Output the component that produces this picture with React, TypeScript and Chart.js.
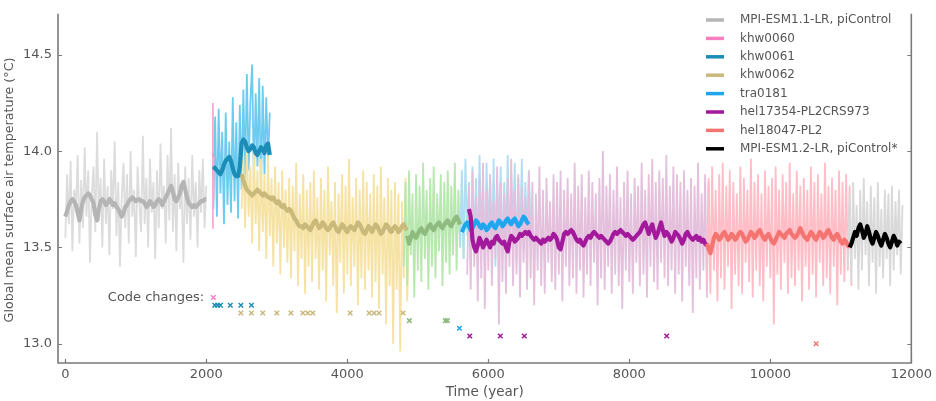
import React, { useEffect, useRef } from "react";
import { Chart, registerables } from "chart.js";

Chart.register(...registerables);

// ---------- axis ticks ----------
const X_TICKS = [0, 2000, 4000, 6000, 8000, 10000, 12000];
const Y_TICKS = [13.0, 13.5, 14.0, 14.5];

// ---------- series (start year, step in years, values in °C) ----------
const STEP = 25;

const GREY_RAW_START = 0;
const GREY_RAW = [
  13.55, 13.88, 13.62, 13.95, 13.48, 13.80, 13.70, 13.98, 13.52, 13.85,
  13.60, 14.02, 13.66, 13.90, 13.42, 13.78, 13.92, 13.58, 14.10, 13.64,
  13.86, 13.50, 13.96, 13.62, 13.82, 13.46, 13.90, 13.70, 14.05, 13.56,
  13.84, 13.40, 13.76, 13.94, 13.60, 13.88, 13.52, 14.00, 13.66, 13.80,
  13.45, 13.92, 13.72, 13.58, 14.08, 13.62, 13.86, 13.50, 13.96, 13.68,
  13.84, 13.44, 13.90, 13.60, 14.04, 13.70, 13.82, 13.52, 13.98, 13.64,
  14.12, 13.58, 13.88, 13.48, 13.94, 13.70, 13.80, 13.42, 13.92, 13.62,
  13.86, 13.54, 13.98, 13.66, 13.84, 13.50, 13.90, 13.68, 13.96, 13.60, 13.82,
];
const GREY_MEAN_START = 0;
const GREY_MEAN = [
  13.66, 13.69, 13.72, 13.74, 13.75, 13.74, 13.72, 13.68, 13.64, 13.70,
  13.74, 13.76, 13.77, 13.78, 13.77, 13.75, 13.73, 13.67, 13.64, 13.70,
  13.74, 13.75, 13.74, 13.72, 13.73, 13.75, 13.74, 13.72, 13.73, 13.71,
  13.70, 13.68, 13.66, 13.68, 13.71, 13.72, 13.74, 13.75, 13.76, 13.75,
  13.74, 13.75, 13.75, 13.74, 13.74, 13.73, 13.71, 13.72, 13.74, 13.73,
  13.71, 13.72, 13.74, 13.75, 13.74, 13.72, 13.74, 13.76, 13.78, 13.80,
  13.82, 13.79, 13.75, 13.74, 13.76, 13.78, 13.82, 13.84, 13.80, 13.76,
  13.73, 13.72, 13.71, 13.72, 13.71, 13.72, 13.73, 13.74, 13.74, 13.75, 13.75,
];

const KHW0060_RAW_START = 2088;
const KHW0060_RAW_STEP = 5;
const KHW0060_RAW = [13.60, 14.25, 13.75, 13.98];
const KHW0060_MEAN_START = 2094;
const KHW0060_MEAN_STEP = 10;
const KHW0060_MEAN = [13.98, 13.98];

const KHW0061_RAW_START = 2100;
const KHW0061_RAW = [
  13.70, 14.18, 13.66, 14.22, 13.78, 14.10, 13.62, 14.20, 13.72, 14.05,
  13.68, 14.28, 13.74, 14.15, 13.65, 14.24,
  13.80, 14.32, 13.86, 14.40, 13.90, 14.26, 14.45, 13.84, 14.30, 13.92,
  14.38, 13.78, 14.34, 13.88, 14.28, 13.95, 14.20,
];
const KHW0061_MEAN_START = 2100;
const KHW0061_MEAN = [
  13.92, 13.91, 13.90, 13.89, 13.88, 13.90, 13.93, 13.95, 13.96, 13.97,
  13.95, 13.91, 13.88, 13.87, 13.87, 13.92,
  14.04, 14.06, 14.05, 14.02, 14.00, 14.01, 14.03, 14.02, 13.99, 13.98,
  14.00, 14.02, 14.01, 13.99, 14.03, 14.04, 13.98,
];

const KHW0062_RAW_START = 2500;
const KHW0062_RAW = [
  13.70, 13.98, 13.60, 14.04, 13.66, 13.92, 13.52, 14.00, 13.62, 13.90,
  13.48, 13.96, 13.58, 13.88, 13.44, 13.98,
  13.56, 13.86, 13.40, 13.92, 13.52, 13.84, 13.36, 13.90, 13.50, 13.80, 13.42, 13.86,
  13.34, 13.82, 13.48, 13.94, 13.30, 13.78, 13.44, 13.88, 13.26, 13.80, 13.40, 13.84,
  13.32, 13.90, 13.44, 13.76, 13.28, 13.86, 13.38, 13.80, 13.22, 13.92, 13.46, 13.74,
  13.30, 13.84, 13.16, 13.78, 13.42, 13.88, 13.26, 13.82, 13.36, 13.96, 13.30, 13.76,
  13.40, 13.86, 13.20, 13.80, 13.34, 13.90, 13.28, 13.84, 13.38, 13.78, 13.24, 13.88,
  13.32, 13.82, 13.18, 13.92, 13.36, 13.76, 13.10, 13.86, 13.30, 13.80, 13.00, 13.84,
  13.28, 13.78, 12.96, 13.74, 13.34, 13.86, 13.22, 13.70,
];
const KHW0062_MEAN_START = 2500;
const KHW0062_MEAN = [
  13.88, 13.85, 13.82, 13.80, 13.79, 13.78, 13.77, 13.78, 13.79, 13.80,
  13.79, 13.78, 13.77, 13.78, 13.77, 13.76,
  13.76, 13.75, 13.76, 13.74, 13.73, 13.74, 13.72, 13.71, 13.72, 13.70, 13.69, 13.70,
  13.69, 13.67, 13.65, 13.64, 13.62, 13.61, 13.61, 13.60, 13.62, 13.61, 13.60, 13.59,
  13.61, 13.63, 13.64, 13.62, 13.60, 13.61, 13.63, 13.62, 13.60, 13.59, 13.60, 13.62,
  13.63, 13.61, 13.59, 13.58, 13.60, 13.62, 13.61, 13.59, 13.58, 13.60, 13.61, 13.60,
  13.59, 13.61, 13.63, 13.62, 13.60, 13.58, 13.57, 13.59, 13.61, 13.60, 13.58, 13.60,
  13.62, 13.61, 13.59, 13.57, 13.58, 13.60, 13.62, 13.61, 13.59, 13.58, 13.60, 13.61,
  13.60, 13.58, 13.59, 13.61, 13.62, 13.60, 13.59,
];

const GREEN_RAW_START = 4800;
const GREEN_RAW = [
  13.40, 13.84, 13.30, 13.90, 13.46, 13.78, 13.24, 13.88, 13.38, 13.82,
  13.32, 13.94, 13.44, 13.80, 13.28, 13.86, 13.40, 13.92,
  13.34, 13.78, 13.48, 13.88, 13.30, 13.84, 13.42, 13.90,
  13.36, 13.82, 13.46, 13.94, 13.38, 13.80, 13.50, 13.86, 13.44,
];
const GREEN_MEAN_START = 4850;
const GREEN_MEAN = [
  13.56, 13.52, 13.55, 13.58, 13.56, 13.55, 13.57, 13.59, 13.60, 13.58,
  13.57, 13.59, 13.61, 13.62, 13.60, 13.59, 13.61, 13.62, 13.63, 13.61,
  13.60, 13.62, 13.63, 13.64, 13.62, 13.61, 13.63, 13.65, 13.66, 13.64, 13.62,
];

const TRA0181_RAW_START = 5600;
const TRA0181_RAW = [
  13.50, 13.90, 13.44, 13.96, 13.56, 13.84, 13.40, 13.92, 13.52, 13.86,
  13.46, 13.98, 13.58, 13.82, 13.42, 13.94, 13.54, 13.88, 13.48, 13.96,
  13.40, 13.86, 13.56, 13.92, 13.44, 13.84, 13.52, 13.98, 13.46, 13.88,
  13.58, 13.94, 13.42, 13.86, 13.50, 13.96, 13.48, 13.84, 13.54, 13.90, 13.60,
];
const TRA0181_MEAN_START = 5625;
const TRA0181_MEAN = [
  13.58, 13.60, 13.62, 13.63, 13.61, 13.59, 13.60, 13.62, 13.64, 13.63,
  13.61, 13.60, 13.62, 13.61, 13.59, 13.60, 13.62, 13.63, 13.61, 13.60,
  13.62, 13.64, 13.63, 13.61, 13.62, 13.64, 13.65, 13.63, 13.62, 13.64,
  13.65, 13.63, 13.61, 13.62, 13.64, 13.66, 13.65, 13.63, 13.62,
];

const HEL17354_RAW_START = 5700;
const HEL17354_RAW = [
  13.36, 13.82, 13.28, 13.90, 13.40, 13.76, 13.22, 13.86, 13.34, 13.94,
  13.18, 13.80, 13.38, 13.88, 13.30, 13.74, 13.44, 13.92, 13.10, 13.84,
  13.32, 13.78, 13.26, 13.86, 13.40, 13.96, 13.30, 13.80, 13.36, 13.88,
  13.24, 13.82, 13.42, 13.76, 13.28, 13.90, 13.34, 13.84, 13.20, 13.78,
  13.38, 13.92, 13.30, 13.80, 13.26, 13.86, 13.42, 13.74, 13.32, 13.88,
  13.28, 13.84, 13.36, 13.90, 13.22, 13.80, 13.40, 13.86, 13.30, 13.78,
  13.34, 13.94, 13.26, 13.82, 13.38, 13.88, 13.24, 13.76, 13.36, 13.90,
  13.30, 13.84, 13.42, 13.78, 13.20, 13.86, 13.34, 14.00, 13.28, 13.82,
  13.40, 13.88, 13.26, 13.80, 13.36, 13.92, 13.30, 13.76, 13.18, 13.84,
  13.38, 13.90, 13.32, 13.78, 13.26, 13.86, 13.42, 13.82, 13.30, 13.94,
  13.36, 13.80, 13.24, 13.88, 13.40, 13.96, 13.32, 13.84, 13.28, 13.90,
  13.42, 13.86, 13.34, 13.98, 13.30, 13.82, 13.38, 13.92, 13.26, 13.88,
  13.36, 13.84, 13.22, 13.90, 13.40, 13.80, 13.30, 13.86, 13.16, 13.82,
  13.34, 13.94, 13.28, 13.78, 13.38, 13.88, 13.24, 13.84, 13.32,
];
const HEL17354_MEAN_START = 5725;
const HEL17354_MEAN = [
  13.70, 13.66, 13.54, 13.50, 13.48, 13.51, 13.55, 13.53,
  13.50, 13.52, 13.54, 13.52, 13.50, 13.53, 13.52, 13.55,
  13.56, 13.54, 13.53, 13.52, 13.53, 13.50, 13.48, 13.53,
  13.56, 13.55, 13.53, 13.54, 13.55, 13.57, 13.56, 13.57,
  13.58, 13.57, 13.58, 13.56, 13.55, 13.54, 13.55, 13.54,
  13.53, 13.52, 13.54, 13.53, 13.54, 13.55, 13.54, 13.55,
  13.57, 13.56, 13.54, 13.50, 13.49, 13.53, 13.57, 13.58,
  13.57, 13.58, 13.59, 13.58, 13.56, 13.54, 13.53, 13.54,
  13.52, 13.51, 13.53, 13.55, 13.56, 13.55, 13.57, 13.58,
  13.57, 13.56, 13.55, 13.56, 13.55, 13.54, 13.53, 13.52,
  13.53, 13.55, 13.57, 13.58, 13.57, 13.58, 13.59, 13.58,
  13.57, 13.56, 13.57, 13.56, 13.55, 13.54, 13.55, 13.56,
  13.57, 13.58, 13.60, 13.62, 13.63, 13.60, 13.57, 13.60,
  13.62, 13.58, 13.55, 13.57, 13.60, 13.63, 13.59, 13.56,
  13.58, 13.57, 13.55, 13.53, 13.55, 13.58, 13.57, 13.56,
  13.54, 13.52, 13.54, 13.57, 13.58, 13.56, 13.55, 13.54,
  13.55, 13.56, 13.54, 13.55, 13.53, 13.54, 13.52, 13.51,
];

const HEL18047_RAW_START = 9100;
const HEL18047_RAW = [
  13.32, 13.86, 13.26, 13.92, 13.38, 13.80, 13.22, 13.88, 13.34, 13.94,
  13.28, 13.82, 13.40, 13.90, 13.18, 13.84, 13.36, 13.78, 13.30, 13.92,
  13.26, 13.86, 13.42, 13.80, 13.32, 13.96, 13.24, 13.84, 13.38, 13.88,
  13.30, 13.78, 13.22, 13.90, 13.40, 13.82, 13.34, 13.86, 13.10, 13.92,
  13.36, 13.80, 13.28, 13.88, 13.42, 13.84, 13.26, 13.94, 13.34, 13.78,
  13.30, 13.90, 13.38, 13.82, 13.22, 13.86, 13.40, 13.80, 13.28, 13.92,
  13.36, 13.84, 13.24, 13.88, 13.42, 13.78, 13.30, 13.94, 13.34, 13.82,
  13.26, 13.86, 13.40, 13.80, 13.20, 13.90, 13.36, 13.84, 13.32, 13.88,
  13.38, 13.82, 13.30,
];
const HEL18047_MEAN_START = 9100;
const HEL18047_MEAN = [
  13.52, 13.49, 13.47, 13.51, 13.55, 13.57, 13.56, 13.54,
  13.55, 13.57, 13.58, 13.56, 13.54, 13.55, 13.57, 13.56,
  13.54, 13.55, 13.57, 13.58, 13.57, 13.55, 13.53, 13.54,
  13.56, 13.58, 13.57, 13.55, 13.56, 13.58, 13.59, 13.57,
  13.55, 13.54, 13.56, 13.57, 13.55, 13.53, 13.52, 13.54,
  13.56, 13.58, 13.57, 13.56, 13.55, 13.57, 13.58, 13.59,
  13.57, 13.56, 13.55, 13.56, 13.58, 13.60, 13.58, 13.56,
  13.55, 13.54, 13.56, 13.58, 13.57, 13.55, 13.54, 13.56,
  13.58, 13.57, 13.55, 13.56, 13.58, 13.59, 13.57, 13.55,
  13.54, 13.56, 13.57, 13.55, 13.53, 13.52, 13.54, 13.53,
  13.51, 13.50,
];

const MPI12_RAW_START = 11100;
const MPI12_RAW = [
  13.40, 13.78, 13.32, 13.84, 13.44, 13.72, 13.28, 13.80,
  13.38, 13.86, 13.46, 13.74, 13.30, 13.82, 13.42, 13.76,
  13.26, 13.84, 13.40, 13.70, 13.34, 13.80, 13.44, 13.78,
  13.30, 13.82, 13.38, 13.74, 13.46, 13.80, 13.36, 13.72,
];
const MPI12_MEAN_START = 11125;
const MPI12_MEAN = [
  13.50, 13.52, 13.55, 13.58, 13.56, 13.60, 13.62, 13.59,
  13.55, 13.57, 13.61, 13.58, 13.54, 13.52, 13.55, 13.58,
  13.56, 13.53, 13.51, 13.54, 13.57, 13.55, 13.52, 13.50,
  13.53, 13.56, 13.54, 13.51, 13.53, 13.52,
];

// ---------- code changes (years, plotted at a level per run) ----------
const CC_KHW0060 = [2100];
const CC_KHW0060_LEVEL = 13.24;
const CC_KHW0061 = [2120, 2160, 2200, 2340, 2490, 2640];
const CC_KHW0061_LEVEL = 13.20;
const CC_KHW0062 = [2490, 2640, 2800, 3000, 3200, 3370, 3440, 3510, 4040, 4310, 4380, 4450, 4790];
const CC_KHW0062_LEVEL = 13.16;
const CC_GREEN = [4880, 5390, 5420];
const CC_GREEN_LEVEL = 13.12;
const CC_TRA0181 = [5590];
const CC_TRA0181_LEVEL = 13.08;
const CC_HEL17354 = [5737, 6170, 6510, 8530];
const CC_HEL17354_LEVEL = 13.04;
const CC_HEL18047 = [10650];
const CC_HEL18047_LEVEL = 13.0;

// ---------- legend ----------
const LEGEND_LABELS = [
  "MPI-ESM1.1-LR, piControl",
  "khw0060",
  "khw0061",
  "khw0062",
  "tra0181",
  "hel17354-PL2CRS973",
  "hel18047-PL2",
  "MPI-ESM1.2-LR, piControl*",
];
const Y_TITLE = "Global mean surface air temperature (°C)";
const X_TITLE = "Time (year)";

const C = {
  grey: "#b5b5b5", greyRaw: "#dcdcdc",
  pink: "#f57fbf", pinkRaw: "#f9a8d4",
  teal: "#1b8db7", tealRaw: "#6ccbef",
  khaki: "#c9b97a", khakiRaw: "#f6e2a2",
  green: "#8fba80", greenRaw: "#b8e8b0",
  blue: "#1ea6ef", blueRaw: "#b0def3",
  purple: "#a3199c", purpleRaw: "#e4c0dd",
  salmon: "#f37470", salmonRaw: "#ffbec7",
  black: "#000000", blackRaw: "#d9d9d9",
};
const LEGEND_COLORS = [C.grey, C.pink, C.teal, C.khaki, C.blue, C.purple, C.salmon, C.black];

const FONT = '"DejaVu Sans", sans-serif';
const TEXT = "#555555";

function pts(start: number, step: number, values: number[]) {
  return values.map((v, i) => ({ x: start + i * step, y: v }));
}
function marks(years: number[], level: number) {
  return years.map((yr) => ({ x: yr, y: level }));
}

function rawDs(data: any[], color: string) {
  return { data, borderColor: color, borderWidth: 1.8, pointRadius: 0, tension: 0, fill: false };
}
function meanDs(data: any[], color: string) {
  return {
    data, borderColor: color, borderWidth: 4.2, pointRadius: 0, tension: 0, fill: false,
    borderJoinStyle: "round", borderCapStyle: "butt",
  };
}
function ccDs(data: any[], color: string) {
  return {
    data, showLine: false, borderColor: color, backgroundColor: color, pointStyle: "crossRot",
    pointRadius: 3.2, pointBorderWidth: 1.5, borderWidth: 1.5,
  };
}

const framePlugin = {
  id: "frame",
  afterDatasetsDraw(chart: any) {
    const { ctx, chartArea, scales } = chart;
    const { left, right, top, bottom } = chartArea;
    ctx.save();
    ctx.strokeStyle = "#7a7a7a";
    ctx.lineWidth = 1.6;
    ctx.beginPath();
    ctx.moveTo(left, top);
    ctx.lineTo(left, bottom);
    ctx.lineTo(right, bottom);
    ctx.lineTo(right, top);
    ctx.stroke();
    ctx.lineWidth = 1.2;
    ctx.beginPath();
    X_TICKS.forEach((v) => {
      const px = Math.round(scales.x.getPixelForValue(v)) + 0.5;
      ctx.moveTo(px, bottom);
      ctx.lineTo(px, bottom - 4);
    });
    Y_TICKS.forEach((v) => {
      const py = Math.round(scales.y.getPixelForValue(v)) + 0.5;
      ctx.moveTo(left, py);
      ctx.lineTo(left + 4, py);
      ctx.moveTo(right, py);
      ctx.lineTo(right - 4, py);
    });
    ctx.stroke();
    // "Code changes:" label
    ctx.fillStyle = TEXT;
    ctx.font = `13px ${FONT}`;
    ctx.textAlign = "right";
    ctx.textBaseline = "middle";
    ctx.fillText("Code changes:", scales.x.getPixelForValue(1970), scales.y.getPixelForValue(CC_KHW0060_LEVEL));
    // y axis title
    ctx.save();
    ctx.translate(10, 190);
    ctx.rotate(-Math.PI / 2);
    ctx.textAlign = "center";
    ctx.font = `12.7px ${FONT}`;
    ctx.fillText(Y_TITLE, 0, 0);
    ctx.restore();
    ctx.restore();
  },
  afterDraw(chart: any) {
    const { ctx } = chart;
    ctx.save();
    ctx.font = `12px ${FONT}`;
    ctx.textBaseline = "middle";
    ctx.textAlign = "left";
    LEGEND_LABELS.forEach((label, i) => {
      const yy = 20 + i * 18.4;
      ctx.strokeStyle = LEGEND_COLORS[i];
      ctx.lineWidth = 3.5;
      ctx.beginPath();
      ctx.moveTo(706, yy);
      ctx.lineTo(724, yy);
      ctx.stroke();
      ctx.fillStyle = TEXT;
      ctx.fillText(label, 740, yy);
    });
    ctx.restore();
  },
};

export default function App() {
  const ref = useRef<HTMLCanvasElement | null>(null);

  useEffect(() => {
    if (!ref.current) return;
    // bottom-to-top drawing order
    const layers: any[] = [
      rawDs(pts(GREY_RAW_START, STEP, GREY_RAW), C.greyRaw),
      rawDs(pts(KHW0061_RAW_START, STEP, KHW0061_RAW), C.tealRaw),
      rawDs(pts(KHW0062_RAW_START, STEP, KHW0062_RAW), C.khakiRaw),
      rawDs(pts(GREEN_RAW_START, STEP, GREEN_RAW), C.greenRaw),
      rawDs(pts(TRA0181_RAW_START, STEP, TRA0181_RAW), C.blueRaw),
      rawDs(pts(HEL17354_RAW_START, STEP, HEL17354_RAW), C.purpleRaw),
      rawDs(pts(HEL18047_RAW_START, STEP, HEL18047_RAW), C.salmonRaw),
      rawDs(pts(MPI12_RAW_START, STEP, MPI12_RAW), C.blackRaw),
      rawDs(pts(KHW0060_RAW_START, KHW0060_RAW_STEP, KHW0060_RAW), C.pinkRaw),
      meanDs(pts(GREY_MEAN_START, STEP, GREY_MEAN), C.grey),
      meanDs(pts(KHW0062_MEAN_START, STEP, KHW0062_MEAN), C.khaki),
      meanDs(pts(KHW0061_MEAN_START, STEP, KHW0061_MEAN), C.teal),
      meanDs(pts(GREEN_MEAN_START, STEP, GREEN_MEAN), C.green),
      meanDs(pts(TRA0181_MEAN_START, STEP, TRA0181_MEAN), C.blue),
      meanDs(pts(HEL17354_MEAN_START, STEP, HEL17354_MEAN), C.purple),
      meanDs(pts(HEL18047_MEAN_START, STEP, HEL18047_MEAN), C.salmon),
      meanDs(pts(MPI12_MEAN_START, STEP, MPI12_MEAN), C.black),
      meanDs(pts(KHW0060_MEAN_START, KHW0060_MEAN_STEP, KHW0060_MEAN), C.pink),
      ccDs(marks(CC_KHW0060, CC_KHW0060_LEVEL), C.pink),
      ccDs(marks(CC_KHW0061, CC_KHW0061_LEVEL), C.teal),
      ccDs(marks(CC_KHW0062, CC_KHW0062_LEVEL), C.khaki),
      ccDs(marks(CC_GREEN, CC_GREEN_LEVEL), C.green),
      ccDs(marks(CC_TRA0181, CC_TRA0181_LEVEL), C.blue),
      ccDs(marks(CC_HEL17354, CC_HEL17354_LEVEL), C.purple),
      ccDs(marks(CC_HEL18047, CC_HEL18047_LEVEL), C.salmon),
    ];
    layers.forEach((d, i) => (d.order = -i));

    const chart = new Chart(ref.current, {
      type: "line",
      data: { datasets: layers },
      plugins: [framePlugin],
      options: {
        animation: false,
        responsive: false,
        devicePixelRatio: 1,
        layout: { padding: { left: 0, right: 19, top: 0, bottom: 0 } },
        plugins: { legend: { display: false }, tooltip: { enabled: false } },
        scales: {
          x: {
            type: "linear",
            min: -104,
            max: 12000,
            grid: { display: false, drawTicks: false },
            border: { display: false },
            afterBuildTicks: (s: any) => { s.ticks = X_TICKS.map((v) => ({ value: v })); },
            afterFit: (s: any) => { s.height = 38; },
            ticks: {
              padding: 4,
              maxRotation: 0,
              autoSkip: false,
              color: TEXT,
              font: { family: FONT, size: 13 },
              callback: (v: any) => String(v),
            },
            title: {
              display: true,
              text: X_TITLE,
              color: TEXT,
              font: { family: FONT, size: 13.5 },
              padding: { top: 0, bottom: 0 },
            },
          },
          y: {
            type: "linear",
            min: 12.9,
            max: 14.713,
            grid: { display: false, drawTicks: false },
            border: { display: false },
            afterBuildTicks: (s: any) => { s.ticks = Y_TICKS.map((v) => ({ value: v })); },
            afterFit: (s: any) => { s.width = 58; },
            ticks: {
              padding: 6,
              autoSkip: false,
              color: TEXT,
              font: { family: FONT, size: 13 },
              callback: (v: any) => Number(v).toFixed(1),
            },
            title: { display: false },
          },
        },
      } as any,
    });
    return () => chart.destroy();
  }, []);

  return (
    <div style={{ position: "fixed", left: 0, top: 0, width: 936, height: 401, background: "#fff" }}>
      <canvas ref={ref} width={936} height={401} style={{ display: "block" }} />
    </div>
  );
}
